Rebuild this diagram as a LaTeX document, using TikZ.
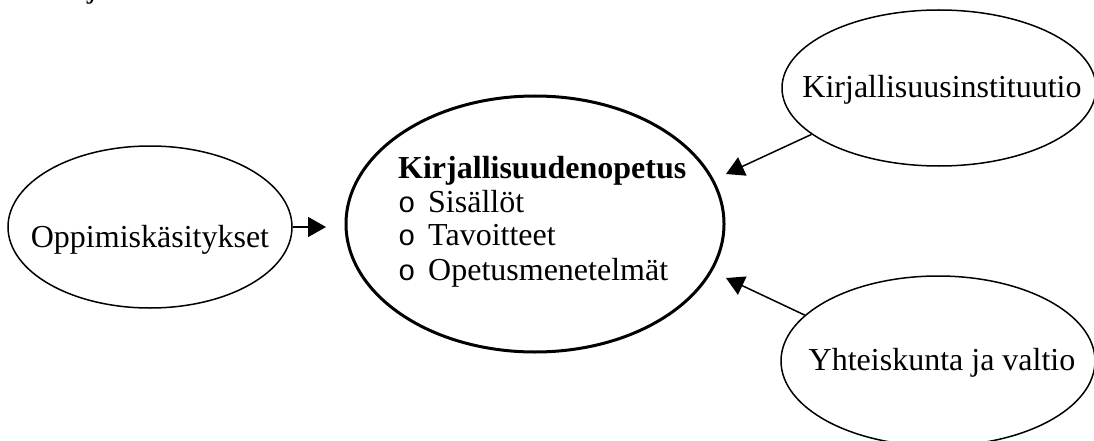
\documentclass[tikz,border=0pt]{standalone}
\usepackage{fontspec}
\setmainfont{Liberation Serif}
\newfontfamily\bulletfont{Liberation Mono}
\usetikzlibrary{shapes.geometric,arrows.meta}
\begin{document}
\begin{tikzpicture}[x=1pt,y=-1pt,
  oval/.style={ellipse, draw, line width=1.5pt, inner sep=0pt},
  mainoval/.style={ellipse, draw, line width=3pt, inner sep=0pt},
  lbl/.style={font=\fontsize{32}{38}\selectfont, anchor=base, inner sep=0pt},
  itm/.style={font=\fontsize{32}{38}\selectfont, anchor=base west, inner sep=0pt},
  bul/.style={font=\bulletfont\fontsize{29}{34}\selectfont, anchor=base west, inner sep=0pt},
  arr/.style={line width=1.5pt, -{Triangle[length=18pt,width=20pt]}}]
\useasboundingbox (0,0) rectangle (1094,441);
\begin{scope}
\clip (0,0) rectangle (1094,441);
\node[lbl] (jfrag) at (92,-2) {j};
% ellipses
\node[oval, minimum width=284pt, minimum height=162pt] (opp) at (150,227) {};
\node[mainoval, minimum width=378pt, minimum height=256pt] (kir) at (535,224) {};
\node[oval, minimum width=314pt, minimum height=156pt] (inst) at (939,88) {};
\node[oval, minimum width=314pt, minimum height=170pt] (yht) at (938,361) {};
\end{scope}
% texts
\node[lbl] (opptext) at (150,247) {Oppimiskäsitykset};
\node[lbl] (insttext) at (942,98) {Kirjallisuusinstituutio};
\node[lbl] (yhttext) at (942,370) {Yhteiskunta ja valtio};
\node[itm, font=\bfseries\fontsize{32}{38}\selectfont] (kirtitle) at (398,178) {Kirjallisuudenopetus};
\node[bul] (b1) at (398,212) {o};
\node[itm] (t1) at (428,212) {Sisällöt};
\node[bul] (b2) at (398,245) {o};
\node[itm] (t2) at (428,245) {Tavoitteet};
\node[bul] (b3) at (398,280) {o};
\node[itm] (t3) at (428,280) {Opetusmenetelmät};
% arrows
\coordinate (tipL) at (326,227);
\coordinate (tipT) at (726,174);
\coordinate (tipB) at (726,278);
\draw[arr] (opp.east) -- (tipL);
\draw[arr] (inst.200) -- (tipT);
\draw[arr] (yht.161) -- (tipB);
\end{tikzpicture}
\end{document}
